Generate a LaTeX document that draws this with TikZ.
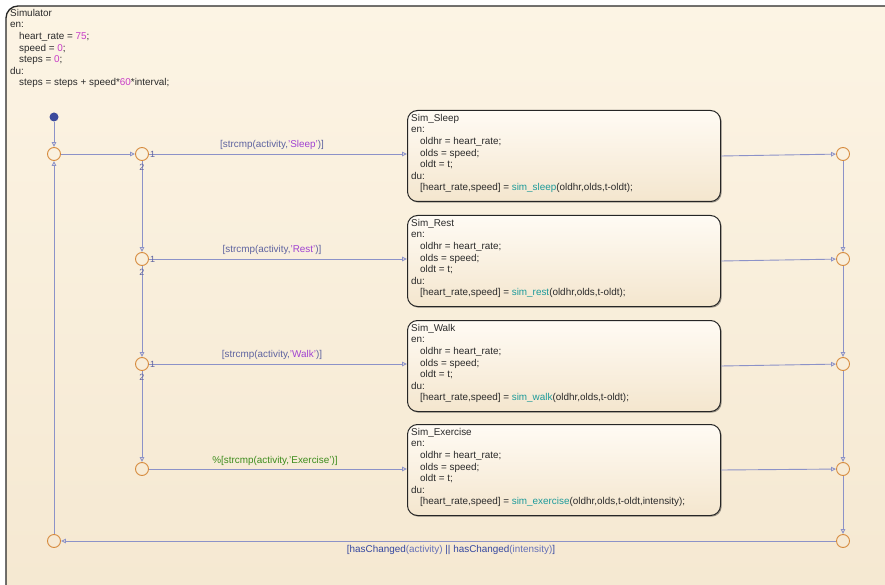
\documentclass[tikz,border=0pt]{standalone}
\usepackage{fontspec}
\setmainfont{Liberation Sans}
\usetikzlibrary{arrows.meta,shadows}
\definecolor{bgtop}{HTML}{FCF4E4}
\definecolor{bgbot}{HTML}{F5E8D1}
\definecolor{sttop}{HTML}{FFFBF4}
\definecolor{stbot}{HTML}{F4E6CE}
\definecolor{ln}{HTML}{8C92C8}
\definecolor{jn}{HTML}{D68B3E}
\definecolor{dotc}{HTML}{3B4A9C}
\definecolor{txt}{HTML}{2A2A2A}
\definecolor{num}{HTML}{C83CC8}
\definecolor{fn}{HTML}{1C9A9A}
\definecolor{lbl}{HTML}{5E63A0}
\definecolor{str}{HTML}{A042D2}
\definecolor{cmt}{HTML}{3C8C1C}
\definecolor{navy}{HTML}{3447A0}
\definecolor{midb}{HTML}{6470B8}
\begin{document}
\begin{tikzpicture}[x=1pt,y=-1pt,
  font=\fontsize{9.9}{11.6}\selectfont,
  junc/.style={circle,draw=jn,line width=0.9pt,minimum size=13pt,inner sep=0pt},
  statebox/.style={draw=black!85,line width=1pt,rounded corners=10pt,top color=sttop,bottom color=stbot,
    minimum width=313pt,minimum height=91pt,anchor=north west,inner sep=0pt,
    drop shadow={shadow xshift=1.2pt,shadow yshift=-1.2pt,opacity=0.35,fill=black}},
  code/.style={anchor=north west,align=left,inner sep=0pt,text=txt,font=\fontsize{9.9}{11.6}\selectfont},
  tr/.style={draw=ln,line width=0.9pt,-{Triangle[open,length=5pt,width=4.5pt]}},
  tlabel/.style={inner sep=1pt,font=\fontsize{9.9}{11}\selectfont},
  ord/.style={inner sep=0.5pt,text=lbl,font=\fontsize{9}{10}\selectfont}]
\useasboundingbox (0,0) rectangle (885,585);
\fill[white] (0,0) rectangle (885,585);
\begin{scope}
\clip (0,0) rectangle (885,585);
\draw[line width=1.3pt,draw=black!85,rounded corners=12pt,top color=bgtop,bottom color=bgbot] (6,6) rectangle (910,610);
\end{scope}
\node[code] (chart) at (10,9) {Simulator\\en:\\\hspace*{9pt}heart\_rate = {\color{num}75};\\\hspace*{9pt}speed = {\color{num}0};\\\hspace*{9pt}steps = {\color{num}0};\\du:\\\hspace*{9pt}steps = steps + speed*{\color{num}60}*interval;};

% states
\node[statebox] (sleep) at (407,110) {};
\node[statebox] (rest) at (407,215) {};
\node[statebox] (walk) at (407,320) {};
\node[statebox] (exer) at (407,424) {};
\node[code] (tsleep) at (411,114) {Sim\_Sleep\\en:\\\hspace*{9pt}oldhr = heart\_rate;\\\hspace*{9pt}olds = speed;\\\hspace*{9pt}oldt = t;\\du:\\\hspace*{9pt}[heart\_rate,speed] = {\color{fn}sim\_sleep}(oldhr,olds,t-oldt);};
\node[code] (trest) at (411,219) {Sim\_Rest\\en:\\\hspace*{9pt}oldhr = heart\_rate;\\\hspace*{9pt}olds = speed;\\\hspace*{9pt}oldt = t;\\du:\\\hspace*{9pt}[heart\_rate,speed] = {\color{fn}sim\_rest}(oldhr,olds,t-oldt);};
\node[code] (twalk) at (411,324) {Sim\_Walk\\en:\\\hspace*{9pt}oldhr = heart\_rate;\\\hspace*{9pt}olds = speed;\\\hspace*{9pt}oldt = t;\\du:\\\hspace*{9pt}[heart\_rate,speed] = {\color{fn}sim\_walk}(oldhr,olds,t-oldt);};
\node[code] (texer) at (411,428) {Sim\_Exercise\\en:\\\hspace*{9pt}oldhr = heart\_rate;\\\hspace*{9pt}olds = speed;\\\hspace*{9pt}oldt = t;\\du:\\\hspace*{9pt}[heart\_rate,speed] = {\color{fn}sim\_exercise}(oldhr,olds,t-oldt,intensity);};

% junctions
\node[circle,fill=dotc,minimum size=9pt,inner sep=0pt] (dot) at (54,117) {};
\node[junc] (j0) at (54,154) {};
\node[junc] (a1) at (142,154) {};
\node[junc] (a2) at (142,259) {};
\node[junc] (a3) at (142,364) {};
\node[junc] (a4) at (142,469) {};
\node[junc] (r1) at (843,154) {};
\node[junc] (r2) at (843,259) {};
\node[junc] (r3) at (843,364) {};
\node[junc] (r4) at (843,469) {};
\node[junc] (r5) at (843,541) {};
\node[junc] (b) at (54,541) {};

% transitions
\draw[tr] (dot) -- (j0);
\draw[tr] (j0) -- (a1);
\draw[tr] (a1) -- (a1 -| sleep.west);
\draw[tr] (a2) -- (a2 -| rest.west);
\draw[tr] (a3) -- (a3 -| walk.west);
\draw[tr] (a4) -- (a4 -| exer.west);
\draw[tr] (a1) -- (a2);
\draw[tr] (a2) -- (a3);
\draw[tr] (a3) -- (a4);
\draw[tr] (sleep.east) -- (r1);
\draw[tr] (rest.east) -- (r2);
\draw[tr] (walk.east) -- (r3);
\draw[tr] (exer.east) -- (r4);
\draw[tr] (r1) -- (r2);
\draw[tr] (r2) -- (r3);
\draw[tr] (r3) -- (r4);
\draw[tr] (r4) -- (r5);
\draw[tr] (r5) -- (b);
\draw[tr] (b) -- (j0);

% order numbers
\node[ord,anchor=west] (o1a) at ([xshift=0.5pt]a1.east) {1};
\node[ord,anchor=north] (o2a) at ([yshift=-2.5pt]a1.south) {2};
\node[ord,anchor=west] (o1b) at ([xshift=0.5pt]a2.east) {1};
\node[ord,anchor=north] (o2b) at ([yshift=-2.5pt]a2.south) {2};
\node[ord,anchor=west] (o1c) at ([xshift=0.5pt]a3.east) {1};
\node[ord,anchor=north] (o2c) at ([yshift=-2.5pt]a3.south) {2};

% labels
\node[tlabel] (l1) at (272,145) {\color{lbl}[strcmp(activity,{\color{str}'Sleep'})]};
\node[tlabel] (l2) at (272,250) {\color{lbl}[strcmp(activity,{\color{str}'Rest'})]};
\node[tlabel] (l3) at (272,355) {\color{lbl}[strcmp(activity,{\color{str}'Walk'})]};
\node[tlabel] (l4) at (275,461) {\color{cmt}\%[strcmp(activity,'Exercise')]};
\node[tlabel] (l5) at (451,550) {{\color{navy}[hasChanged}{\color{midb}(activity)} {\color{navy}||} {\color{navy}hasChanged}{\color{midb}(intensity)}{\color{navy}]}};
\end{tikzpicture}
\end{document}
